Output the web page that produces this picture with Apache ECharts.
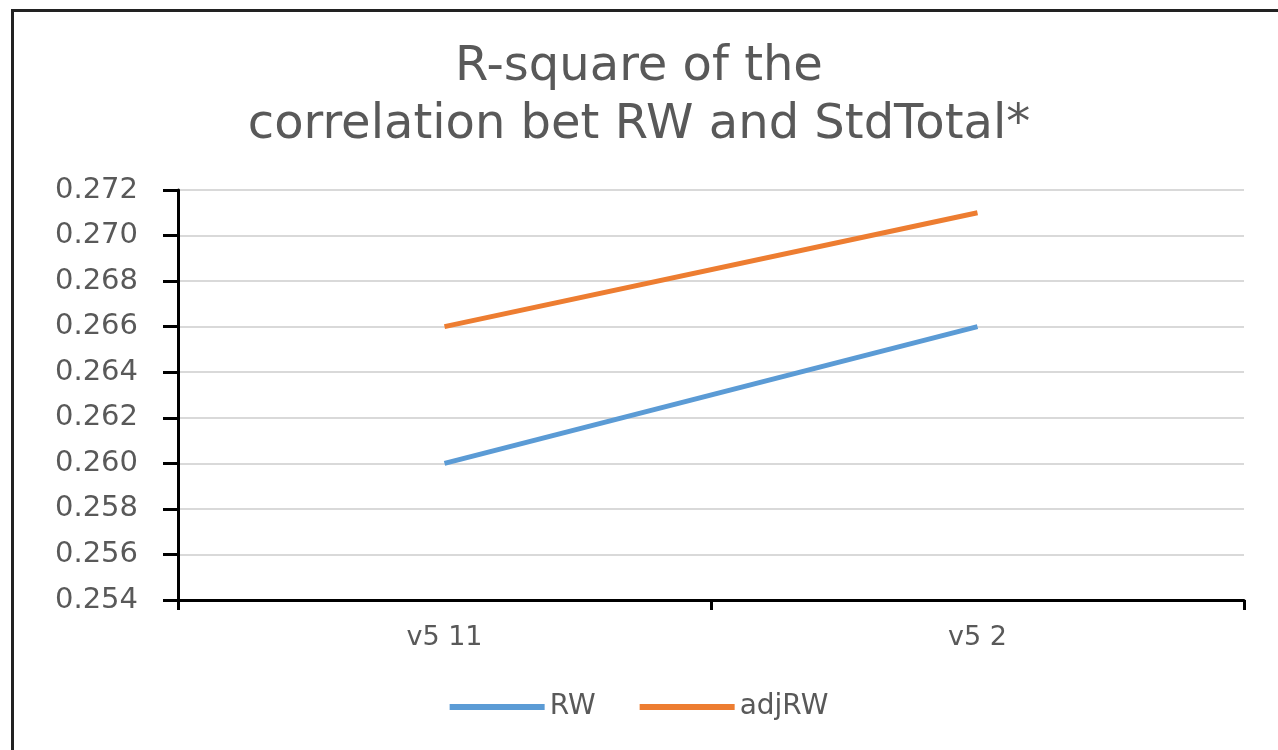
<!DOCTYPE html>
<html><head><meta charset="utf-8">
<script src="https://cdn.jsdelivr.net/npm/echarts@6/dist/echarts.min.js"></script>
<style>html,body{margin:0;padding:0;background:#fff}#c{width:1278px;height:750px}</style>
</head><body><div id="c"></div>
<script>
var categories = ['v5 11', 'v5 2'];
var rwValues = [0.260, 0.266];
var adjRwValues = [0.266, 0.271];
var titleLines = ['R-square of the', 'correlation bet RW and StdTotal*'];
var seriesNames = ['RW', 'adjRW'];

var chart = echarts.init(document.getElementById('c'));
var font = 'DejaVu Sans';
chart.setOption({
  animation: false,
  backgroundColor: '#fff',
  graphic: [{
    type: 'rect', left: 10, top: 8, silent: true,
    shape: { width: 1300, height: 800 },
    style: { fill: 'none', stroke: '#222', lineWidth: 3 }
  }],
  title: {
    text: titleLines.join('\n'),
    left: 'center',
    top: 34,
    padding: [5, 5, 5, 31],
    textStyle: { fontFamily: font, fontSize: 48, fontWeight: 'normal', color: '#595959', lineHeight: 58 }
  },
  legend: {
    data: seriesNames,
    left: 'center',
    top: 688,
    padding: [5, 5, 5, 21],
    itemWidth: 95,
    itemHeight: 6,
    itemGap: 44,
    icon: 'rect',
    textStyle: { fontFamily: font, fontSize: 28, color: '#595959' }
  },
  grid: { left: 178, right: 34, top: 190, bottom: 150, containLabel: false },
  xAxis: {
    type: 'category',
    data: categories,
    boundaryGap: true,
    axisLine: { lineStyle: { color: '#000', width: 3 } },
    axisTick: { show: true, length: 10, lineStyle: { color: '#000', width: 3 } },
    axisLabel: { fontFamily: font, fontSize: 27, color: '#595959', margin: 24 }
  },
  yAxis: {
    type: 'value',
    min: 0.254, max: 0.272, interval: 0.002,
    axisLine: { show: true, lineStyle: { color: '#000', width: 3 } },
    axisTick: { show: true, length: 15, lineStyle: { color: '#000', width: 3 } },
    axisLabel: { fontFamily: font, fontSize: 29, color: '#595959', margin: 40,
      formatter: function (v) { return v.toFixed(3); } },
    splitLine: { show: true, lineStyle: { color: '#d9d9d9', width: 2 } }
  },
  series: [
    { name: seriesNames[0], type: 'line', data: rwValues, symbol: 'none',
      lineStyle: { color: '#5B9BD5', width: 5 }, itemStyle: { color: '#5B9BD5' } },
    { name: seriesNames[1], type: 'line', data: adjRwValues, symbol: 'none',
      lineStyle: { color: '#ED7D31', width: 5 }, itemStyle: { color: '#ED7D31' } }
  ]
});
</script></body></html>
